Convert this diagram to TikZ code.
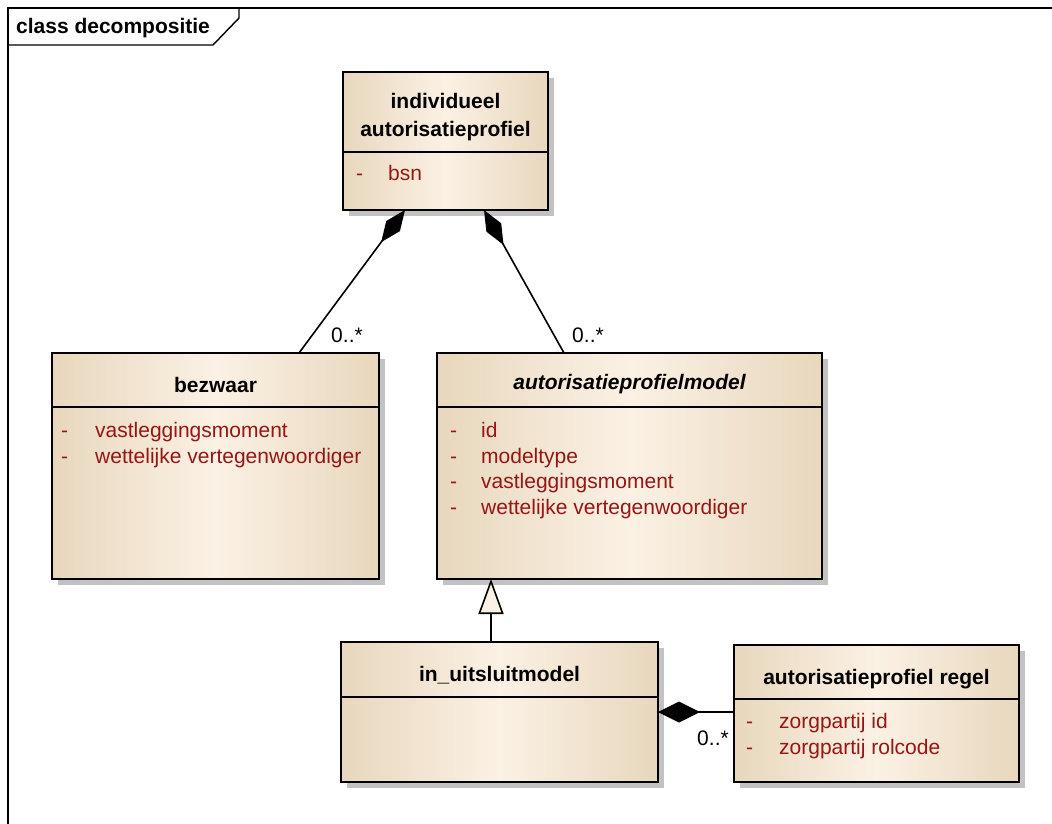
\documentclass[tikz,border=0pt]{standalone}
\usepackage{fontspec}
\setmainfont{Liberation Sans}
\usetikzlibrary{arrows.meta,shadows,calc}

\definecolor{boxedge}{RGB}{232,215,189}
\definecolor{boxmid}{RGB}{251,241,228}
\definecolor{attrred}{RGB}{150,22,22}
\definecolor{shadowgray}{RGB}{194,194,194}
\newcommand{\umlfont}{\fontsize{21}{25}\selectfont}

\tikzset{
	classbox/.style={draw=black, line width=1.8pt, inner sep=0pt, outer sep=0pt,
		left color=boxedge, right color=boxedge, middle color=boxmid,
		drop shadow={shadow xshift=6pt, shadow yshift=-6pt, fill=shadowgray, opacity=1}},
	divider/.style={line width=1.8pt},
	classname/.style={font=\umlfont\bfseries, anchor=base, inner sep=0pt},
	attr/.style={font=\umlfont, text=attrred, anchor=base west, inner sep=0pt},
	mult/.style={font=\umlfont, anchor=base, inner sep=0pt},
	compos/.style={line width=1.6pt, -{Diamond[length=40pt, width=17pt]}},
	generalis/.style={line width=1.6pt, -{Triangle[length=35pt, width=25pt, fill=boxmid]}},
}

\begin{document}
\begin{tikzpicture}[x=1pt, y=-1pt]
	\useasboundingbox (0,0) rectangle (1052,824);
	
	% frame
	\draw[line width=1.6pt] (8,824) -- (8,8) -- (1052,8);
	\draw[line width=1.4pt] (8,45) -- (213,45) -- (239,18) -- (239,8);
	\node[font=\umlfont\bfseries, anchor=base west, inner sep=0pt] (frametitle) at (16,34) {class decompositie};
	
	% classes
	\node[classbox, minimum width=205pt, minimum height=138pt] (indiv) at (445.5,141) {};
	\draw[divider] ($(indiv.north west)+(0,80)$) -- ($(indiv.north east)+(0,80)$);
	\node[classname] (indivname) at (445.5,109) {individueel};
	\node[classname] (indivname2) at (445.5,136) {autorisatieprofiel};
	\node[attr] (indivdash) at (356,180) {-};
	\node[attr] (indivbsn) at (388,180) {bsn};
	
	\node[classbox, minimum width=327pt, minimum height=226pt] (bezwaar) at (215.5,466) {};
	\draw[divider] ($(bezwaar.north west)+(0,54)$) -- ($(bezwaar.north east)+(0,54)$);
	\node[classname] (bezwaarname) at (215.5,392) {bezwaar};
	\node[attr] (bezwaardash1) at (61,437) {-};
	\node[attr] (bezwaarattr1) at (95,437) {vastleggingsmoment};
	\node[attr] (bezwaardash2) at (61,463) {-};
	\node[attr] (bezwaarattr2) at (95,463) {wettelijke vertegenwoordiger};
	
	\node[classbox, minimum width=385pt, minimum height=226pt] (apm) at (629.5,466) {};
	\draw[divider] ($(apm.north west)+(0,54)$) -- ($(apm.north east)+(0,54)$);
	\node[classname, font=\umlfont\bfseries\itshape] (apmname) at (629.5,389) {autorisatieprofielmodel};
	\node[attr] (apmdash1) at (450,437) {-};
	\node[attr] (apmattr1) at (481,437) {id};
	\node[attr] (apmdash2) at (450,463) {-};
	\node[attr] (apmattr2) at (481,463) {modeltype};
	\node[attr] (apmdash3) at (450,488) {-};
	\node[attr] (apmattr3) at (481,488) {vastleggingsmoment};
	\node[attr] (apmdash4) at (450,514) {-};
	\node[attr] (apmattr4) at (481,514) {wettelijke vertegenwoordiger};
	
	\node[classbox, minimum width=317pt, minimum height=140pt] (inuit) at (499.5,712) {};
	\draw[divider] ($(inuit.north west)+(0,55)$) -- ($(inuit.north east)+(0,55)$);
	\node[classname] (inuitname) at (499.5,681) {in\_uitsluitmodel};
	
	\node[classbox, minimum width=285pt, minimum height=137pt] (regel) at (876.5,713.5) {};
	\draw[divider] ($(regel.north west)+(0,54)$) -- ($(regel.north east)+(0,54)$);
	\node[classname] (regelname) at (876.5,684) {autorisatieprofiel regel};
	\node[attr] (regeldash1) at (746,728) {-};
	\node[attr] (regelattr1) at (779,728) {zorgpartij id};
	\node[attr] (regeldash2) at (746,754) {-};
	\node[attr] (regelattr2) at (779,754) {zorgpartij rolcode};
	
	% relations
	\draw[compos] ($(bezwaar.north west)+(247,0)$) -- ($(indiv.south west)+(62,0)$);
	\draw[compos] ($(apm.north west)+(127,0)$) -- ($(indiv.south west)+(141,0)$);
	\draw[generalis] ($(inuit.north west)+(150,0)$) -- ($(apm.south west)+(54,0)$);
	\draw[line width=1.6pt, -{Diamond[length=42pt, width=21pt]}] ($(regel.north west)+(0,67)$) -- ($(inuit.north east)+(0,70)$);
	
	\node[mult] (mult1) at (347,342) {0..*};
	\node[mult] (mult2) at (588,342) {0..*};
	\node[mult] (mult3) at (713,745) {0..*};
\end{tikzpicture}
\end{document}
